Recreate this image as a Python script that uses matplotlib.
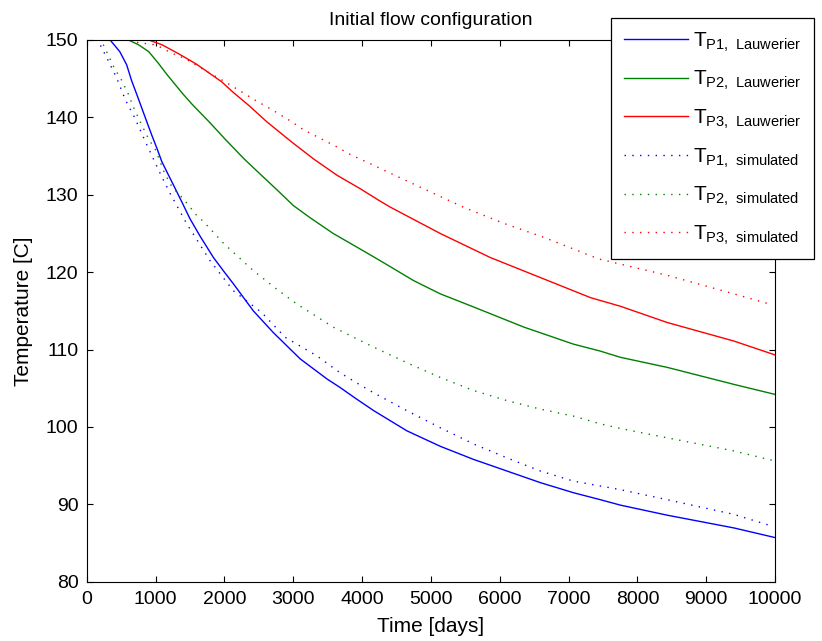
import matplotlib
matplotlib.use('Agg')
import matplotlib.pyplot as plt

# values (days, degrees C)
p1_lauw_days = [340, 480, 580, 650, 730, 800, 870, 945, 1020, 1090, 1190, 1280, 1380, 1500, 1650, 1840,
                2000, 2130, 2420, 2710, 3100, 3490, 3680, 3920, 4170, 4650, 5135, 5620, 6105, 6590,
                7070, 7460, 7750, 8430, 9400, 10000]
p1_lauw_temp = [150, 148.5, 146.8, 144.8, 142.9, 141.2, 139.5, 137.7, 136.0, 134.3, 132.5, 130.9, 129.1, 126.9,
                124.6, 121.9, 120.0, 118.5, 115.0, 112.2, 108.8, 106.2, 105.1, 103.6, 102.1, 99.5, 97.5,
                95.8, 94.3, 92.8, 91.5, 90.6, 89.9, 88.6, 86.95, 85.7]

p2_lauw_days = [605, 750, 900, 1040, 1160, 1280, 1400, 1530, 1650, 1770, 2030, 2290, 2540, 2780, 3003,
                3250, 3580, 3970, 4260, 4750, 5135, 5620, 6350, 7070, 7460, 7750, 8430, 9400, 10000]
p2_lauw_temp = [150, 149.4, 148.5, 147.0, 145.6, 144.3, 143.0, 141.7, 140.6, 139.5, 137.0, 134.6, 132.5,
                130.5, 128.6, 127.0, 125.0, 123.0, 121.5, 118.9, 117.2, 115.5, 112.9, 110.7, 109.8, 109.0,
                107.7, 105.5, 104.2]

p3_lauw_days = [900, 1090, 1340, 1590, 1800, 1960, 2120, 2360, 2620, 2980, 3300, 3640, 3970, 4240, 4410,
                5135, 5860, 6590, 7320, 7750, 8430, 9400, 10000]
p3_lauw_temp = [150, 149.4, 148.2, 146.9, 145.6, 144.6, 143.3, 141.5, 139.4, 136.8, 134.6, 132.5, 130.8,
                129.3, 128.4, 125.0, 121.9, 119.3, 116.7, 115.6, 113.5, 111.1, 109.3]

p1_sim_days = [200, 320, 440, 560, 700, 850, 970, 1065, 1210, 1450, 1790, 2130, 2540, 2880, 3340, 3680,
               3920, 4170, 4650, 5135, 5620, 6105, 6590, 7070, 7750, 8430, 9400, 9950]
p1_sim_temp = [149.3, 147.2, 145.0, 142.3, 139.9, 136.9, 134.6, 132.8, 130.2, 126.3, 121.5, 117.6, 114.8,
               111.6, 109.2, 107.0, 105.7, 104.4, 102.1, 99.9, 97.8, 96.0, 94.3, 93.0, 91.9, 90.6, 88.7, 87.2]

p2_sim_days = [240, 310, 410, 490, 600, 690, 800, 900, 1000, 1130, 1240, 1400, 1600, 1700, 1990, 2420,
               2760, 3050, 3580, 3920, 4170, 4650, 5135, 5620, 6105, 6590, 7070, 7460, 7750, 8430, 9400,
               9950]
p2_sim_temp = [149.4, 148.1, 146.2, 145.1, 143.1, 141.1, 139.0, 137.2, 135.8, 132.8, 131.0, 129.5, 127.3,
               126.5, 123.7, 120.2, 117.8, 115.9, 112.9, 111.4, 110.3, 108.3, 106.4, 104.7, 103.4, 102.3,
               101.4, 100.4, 99.8, 98.6, 96.9, 95.7]

p3_sim_days = [730, 970, 1090, 1210, 1430, 1770, 2010, 2230, 2470, 2690, 2930, 3150, 3390, 3630, 3850,
               4100, 4310, 4890, 5470, 6060, 6640, 7440, 8430, 9400, 9950]
p3_sim_temp = [149.7, 149.4, 149.0, 148.4, 147.6, 145.8, 144.6, 143.4, 142.1, 141.0, 139.7, 138.4, 137.3,
               136.2, 135.1, 134.1, 133.2, 130.8, 128.4, 126.3, 124.5, 121.7, 119.6, 117.2, 115.8]

labels = [r'$\mathrm{T_{P1,\ Lauwerier}}$', r'$\mathrm{T_{P2,\ Lauwerier}}$', r'$\mathrm{T_{P3,\ Lauwerier}}$',
          r'$\mathrm{T_{P1,\ simulated}}$', r'$\mathrm{T_{P2,\ simulated}}$', r'$\mathrm{T_{P3,\ simulated}}$']

plt.rcParams['font.family'] = ['Liberation Sans', 'DejaVu Sans']
plt.rcParams['mathtext.fontset'] = 'custom'
plt.rcParams['mathtext.rm'] = 'Liberation Sans'

blue, green, red = (0, 0, 1), (0, 0.5, 0), (1, 0, 0)
dots = (0, (1, 4.6))

fig = plt.figure(figsize=(8.22, 6.41), dpi=100)
ax = fig.add_axes([0.1055, 0.0925, 0.8375, 0.8451])

ax.plot(p1_lauw_days, p1_lauw_temp, color=blue, lw=1.0, label=labels[0])
ax.plot(p2_lauw_days, p2_lauw_temp, color=green, lw=1.0, label=labels[1])
ax.plot(p3_lauw_days, p3_lauw_temp, color=red, lw=1.0, label=labels[2])
ax.plot(p1_sim_days, p1_sim_temp, color=blue, lw=1.0, linestyle=dots, label=labels[3])
ax.plot(p2_sim_days, p2_sim_temp, color=green, lw=1.0, linestyle=dots, label=labels[4])
ax.plot(p3_sim_days, p3_sim_temp, color=red, lw=1.0, linestyle=dots, label=labels[5])

ax.set_xlim(0, 10000)
ax.set_ylim(80, 150)
ax.set_xticks(range(0, 10001, 1000))
ax.set_yticks(range(80, 151, 10))
ax.tick_params(direction='in', top=True, right=True, length=4, width=0.8, labelsize=14)
ax.tick_params(axis='x', pad=7)
ax.tick_params(axis='y', pad=6)
for s in ax.spines.values():
    s.set_linewidth(0.8)

ax.set_title('Initial flow configuration', fontsize=14, pad=11)
ax.set_xlabel('Time [days]', fontsize=15, labelpad=6)
ax.set_ylabel('Temperature [C]', fontsize=15, labelpad=9)

leg = ax.legend(loc='upper left', bbox_to_anchor=(611 / 822, 1 - 18 / 641), bbox_transform=fig.transFigure,
                fancybox=False, edgecolor='black', framealpha=1, fontsize=15, handlelength=3.1,
                labelspacing=0.74, handletextpad=0.24, borderpad=0.6, borderaxespad=0)
leg.get_frame().set_linewidth(0.9)

fig.savefig('out.png', dpi=100)
